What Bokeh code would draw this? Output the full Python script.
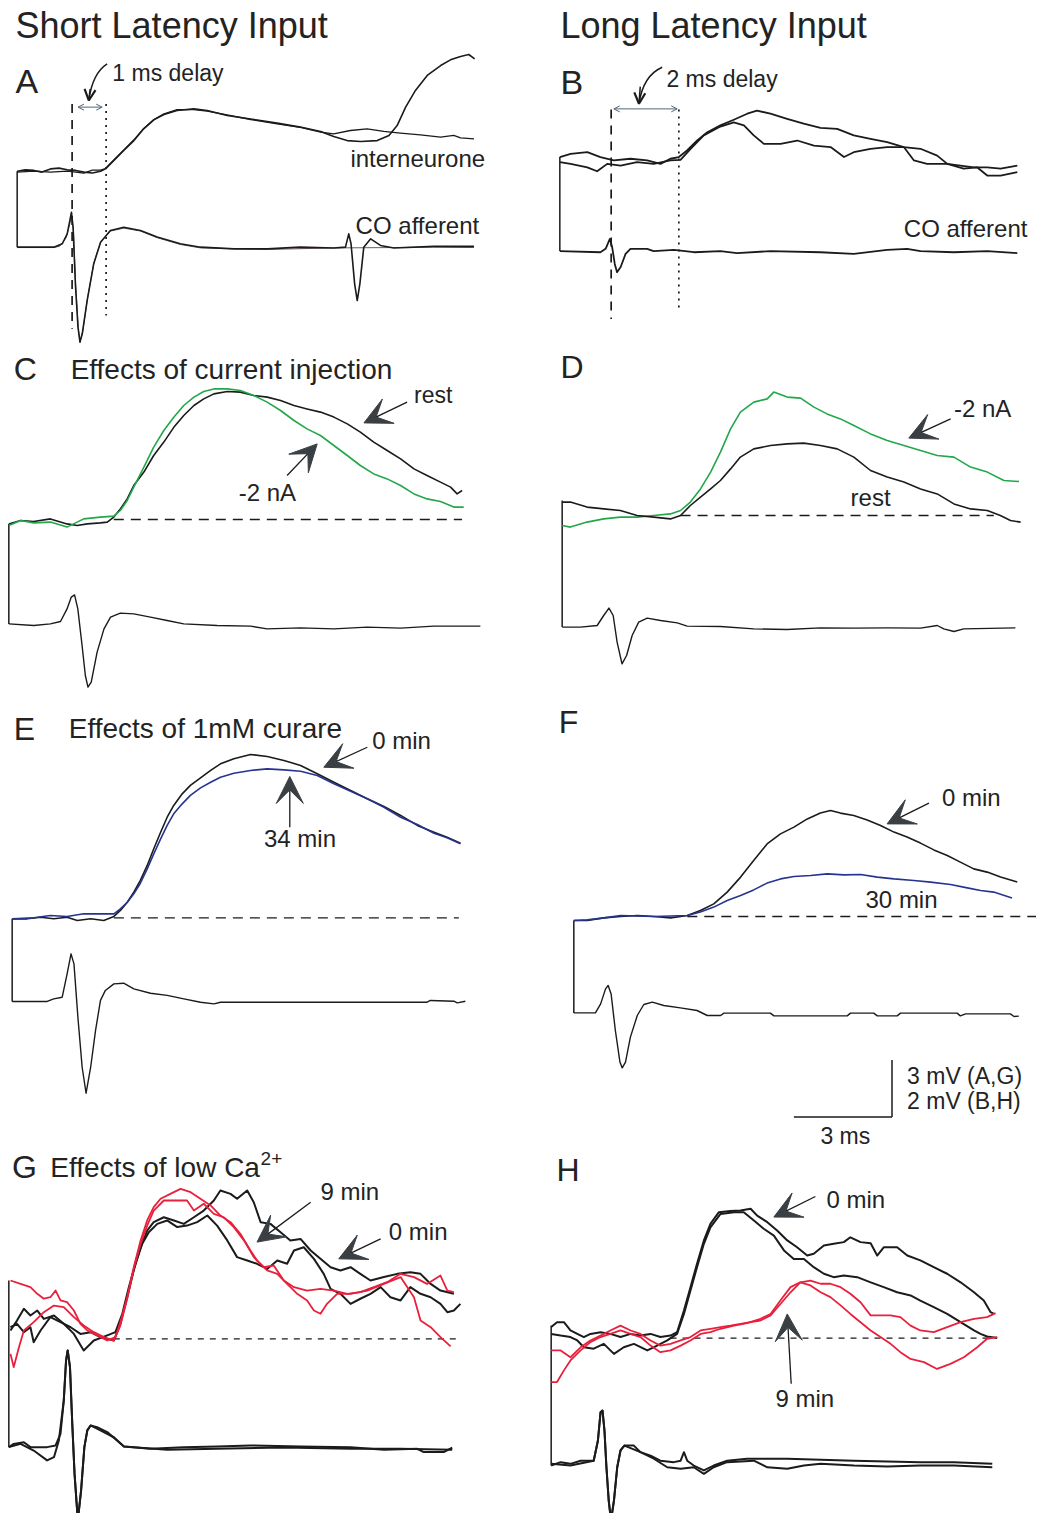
from bokeh.plotting import figure
from bokeh.models import Range1d, Arrow, VeeHead, OpenHead
from bokeh.layouts import column, row
from bokeh.embed import file_html
from bokeh.resources import INLINE
from bokeh.core.properties import value

# ---------------------------------------------------------------- data
# every trace: list of (time in ms from sweep start, potential in mV)
# afferent (extracellular) traces are drawn below the intracellular ones,
# in the same panel units with their own offset baseline.

# ---- A : short latency, interneurone (3 mV scale)
A_INT1 = [(0, 0), (0.25, 0.07), (0.51, 0.04), (0.76, -0.05), (1.02, 0.12), (1.28, 0.16),
          (1.53, 0.07), (1.79, 0.04), (2.04, -0.05), (2.30, -0.1), (2.55, 0.0), (2.70, 0.12),
          (2.96, 0.56), (3.26, 1.09), (3.57, 1.61), (3.87, 2.23), (4.18, 2.70), (4.49, 2.98),
          (4.89, 3.19), (5.40, 3.28), (5.81, 3.19), (6.42, 2.93), (7.14, 2.75), (7.95, 2.53),
          (8.66, 2.32), (9.28, 2.09), (9.68, 1.82), (10.09, 1.61), (10.50, 1.56), (11.01, 1.61),
          (11.37, 1.88), (11.62, 2.40), (11.88, 3.37), (12.18, 4.25), (12.54, 5.04), (12.95, 5.56),
          (13.25, 5.86), (13.56, 6.04), (13.81, 6.14), (13.99, 5.91)]
A_INT2 = [(0, -0.05), (0.51, 0.0), (1.02, -0.05), (1.53, 0.0), (2.04, -0.1), (2.30, 0.05),
          (2.55, 0.05), (2.70, 0.14), (2.96, 0.6), (3.26, 1.12), (3.57, 1.65), (3.87, 2.25),
          (4.18, 2.72), (4.49, 3.02), (4.89, 3.24), (5.40, 3.24), (5.81, 3.16), (6.42, 2.96),
          (7.14, 2.72), (7.95, 2.49), (8.66, 2.30), (9.28, 2.05), (9.68, 1.96), (10.19, 2.14),
          (10.70, 2.23), (11.21, 2.09), (11.72, 2.00), (12.33, 1.91), (12.95, 1.79), (13.35, 1.88),
          (13.56, 1.75), (13.97, 1.70)]
A_AFF1 = [(0, -4.0), (1.12, -4.0), (1.38, -3.82), (1.53, -3.30), (1.61, -2.60), (1.66, -2.16),
          (1.71, -2.95), (1.78, -5.93), (1.86, -8.21), (1.92, -9.0), (1.99, -8.56), (2.14, -6.81),
          (2.34, -4.88), (2.55, -3.74), (2.85, -3.12), (3.26, -2.95), (3.77, -3.12), (4.28, -3.47),
          (4.99, -3.82), (5.61, -4.0), (6.63, -4.09), (7.65, -4.09), (8.66, -4.0), (9.68, -4.04),
          (10.04, -4.0), (10.14, -3.30), (10.21, -3.82), (10.32, -5.93), (10.40, -6.81),
          (10.48, -5.93), (10.60, -4.0), (10.81, -3.56), (11.11, -3.91), (11.52, -4.04),
          (12.74, -3.96), (13.97, -3.96)]
A_AFF2 = [(0, -4.02), (1.12, -4.02), (1.30, -3.95), (1.50, -3.5), (1.61, -2.75), (1.66, -2.3),
          (1.72, -3.1), (1.79, -6.0), (1.87, -8.3), (1.92, -8.95), (2.00, -8.5), (2.15, -6.7),
          (2.35, -4.8), (2.56, -3.7), (2.86, -3.15), (3.26, -3.0), (3.77, -3.15), (4.28, -3.5),
          (4.99, -3.86), (5.61, -4.04), (7.65, -4.12), (9.68, -4.04), (11.5, -4.02), (12.7, -4.0),
          (13.97, -4.02)]
A_EDGE = [-4.0, 0.0]

# ---- B : long latency (2 mV scale)
B_INT1 = [(0, 0.18), (0.33, 0.29), (0.84, 0.35), (1.24, 0.18), (1.65, 0.06), (2.16, 0.12),
          (2.67, 0.06), (3.08, -0.06), (3.38, 0.12), (3.64, 0.18), (3.89, 0.41), (4.20, 0.76),
          (4.51, 1.05), (4.91, 1.29), (5.32, 1.49), (5.73, 1.70), (6.03, 1.81), (6.44, 1.70),
          (6.95, 1.52), (7.46, 1.35), (7.97, 1.20), (8.48, 1.17), (8.99, 0.94), (9.50, 0.82),
          (10.01, 0.70), (10.52, 0.53), (11.03, 0.47), (11.54, 0.23), (11.85, -0.06),
          (12.25, -0.12), (12.66, -0.18), (13.07, -0.18), (13.48, -0.23), (13.99, -0.12)]
B_INT2 = [(0, 0.0), (0.33, -0.06), (0.84, -0.18), (1.14, -0.32), (1.45, -0.06), (1.86, -0.12),
          (2.36, 0.0), (2.87, -0.06), (3.38, 0.06), (3.69, 0.08), (4.00, 0.47), (4.40, 0.94),
          (4.91, 1.25), (5.32, 1.40), (5.63, 1.29), (5.93, 0.94), (6.24, 0.64), (6.75, 0.64),
          (7.26, 0.76), (7.77, 0.58), (8.28, 0.53), (8.69, 0.18), (8.99, 0.35), (9.50, 0.47),
          (10.01, 0.53), (10.52, 0.53), (10.83, 0.06), (11.23, -0.06), (11.85, -0.06),
          (12.35, -0.23), (12.76, -0.18), (13.07, -0.47), (13.48, -0.47), (13.99, -0.35)]
B_AFF = [(0, -3.12), (1.24, -3.16), (1.40, -3.04), (1.53, -2.69), (1.60, -2.98), (1.68, -3.57),
         (1.75, -3.86), (1.86, -3.68), (2.01, -3.22), (2.16, -3.04), (2.67, -3.04), (2.87, -3.12),
         (3.49, -3.08), (4.10, -3.16), (4.91, -3.12), (5.42, -3.19), (6.44, -3.12), (7.97, -3.16),
         (8.99, -3.22), (10.01, -3.08), (10.62, -3.04), (11.03, -3.12), (12.05, -3.16),
         (13.07, -3.12), (13.99, -3.19)]
B_EDGE = [-3.12, 0.18]

# ---- C : current injection, short latency
C_REST = [(0, -0.22), (0.36, -0.05), (0.76, -0.10), (1.27, 0.03), (1.78, -0.22), (2.09, -0.30),
          (2.40, -0.22), (2.80, -0.17), (3.01, -0.13), (3.21, 0.12), (3.41, 0.53), (3.62, 1.03),
          (3.82, 1.70), (4.13, 2.37), (4.43, 3.20), (4.74, 3.87), (5.05, 4.62), (5.35, 5.20),
          (5.66, 5.70), (5.96, 6.03), (6.27, 6.28), (6.68, 6.40), (7.08, 6.37), (7.49, 6.20),
          (7.90, 6.12), (8.31, 5.95), (8.72, 5.70), (9.12, 5.53), (9.53, 5.37), (9.94, 5.12),
          (10.35, 4.78), (10.75, 4.37), (11.16, 3.87), (11.57, 3.45), (11.98, 3.03), (12.39, 2.53),
          (12.79, 2.20), (13.20, 1.87), (13.51, 1.62), (13.71, 1.28), (13.86, 1.45)]
C_NEG = [(0, -0.30), (0.36, -0.05), (0.76, -0.17), (1.27, -0.13), (1.78, -0.38), (2.29, 0.03),
         (2.80, 0.12), (3.21, 0.17), (3.41, 0.45), (3.62, 0.95), (3.82, 1.62), (4.13, 2.62),
         (4.43, 3.62), (4.74, 4.45), (5.05, 5.12), (5.35, 5.70), (5.66, 6.12), (5.96, 6.40),
         (6.27, 6.53), (6.68, 6.53), (7.08, 6.45), (7.49, 6.20), (7.90, 5.87), (8.31, 5.45),
         (8.72, 4.95), (9.12, 4.53), (9.53, 4.20), (9.94, 3.70), (10.35, 3.20), (10.75, 2.70),
         (11.16, 2.28), (11.57, 2.03), (11.98, 1.70), (12.39, 1.28), (12.79, 1.03), (13.20, 0.90),
         (13.61, 0.62), (13.91, 0.62)]
C_AFF = [(0, -5.22), (0.76, -5.30), (1.27, -5.22), (1.58, -5.10), (1.78, -4.47), (1.91, -3.88),
         (2.01, -3.77), (2.11, -4.47), (2.24, -6.30), (2.34, -7.80), (2.42, -8.38), (2.52, -8.13),
         (2.70, -6.63), (2.91, -5.47), (3.11, -4.88), (3.41, -4.68), (3.82, -4.72), (4.33, -4.88),
         (4.84, -5.05), (5.35, -5.22), (6.37, -5.30), (7.39, -5.33), (7.90, -5.47), (8.92, -5.42),
         (9.94, -5.47), (10.96, -5.38), (11.98, -5.43), (13.00, -5.33), (14.42, -5.33)]
C_EDGE = [-5.22, -0.22]

# ---- D : current injection, long latency
D_REST = [(0, 0.67), (0.25, 0.67), (0.76, 0.42), (1.27, 0.33), (1.78, 0.25), (2.29, 0.0),
          (2.80, -0.08), (3.31, -0.17), (3.62, 0.0), (3.92, 0.50), (4.23, 0.92), (4.54, 1.33),
          (4.84, 1.75), (5.15, 2.33), (5.45, 2.92), (5.86, 3.33), (6.37, 3.50), (6.88, 3.58),
          (7.39, 3.62), (7.90, 3.50), (8.41, 3.33), (8.92, 2.92), (9.43, 2.25), (9.94, 1.92),
          (10.45, 1.67), (10.96, 1.33), (11.47, 1.08), (11.98, 0.58), (12.49, 0.33), (13.00, 0.25),
          (13.40, 0.0), (13.71, -0.25), (14.02, -0.33)]
D_NEG = [(0, -0.50), (0.25, -0.58), (0.76, -0.33), (1.27, -0.17), (1.78, -0.08), (2.29, -0.08),
         (2.80, 0.0), (3.31, 0.08), (3.62, 0.25), (3.92, 0.67), (4.23, 1.33), (4.54, 2.17),
         (4.84, 3.17), (5.15, 4.33), (5.45, 5.17), (5.86, 5.67), (6.27, 5.83), (6.47, 6.17),
         (6.88, 5.92), (7.29, 5.87), (7.70, 5.42), (8.10, 5.08), (8.51, 4.83), (8.92, 4.50),
         (9.43, 4.08), (9.94, 3.75), (10.45, 3.50), (10.96, 3.25), (11.47, 3.00), (11.98, 2.92),
         (12.49, 2.42), (13.00, 2.17), (13.51, 1.75), (13.97, 1.70)]
D_AFF = [(0, -5.58), (0.56, -5.58), (1.07, -5.50), (1.27, -5.00), (1.43, -4.63), (1.56, -5.00),
         (1.68, -6.33), (1.83, -7.42), (1.97, -7.00), (2.14, -6.00), (2.34, -5.33), (2.60, -5.13),
         (3.01, -5.25), (3.52, -5.37), (3.82, -5.53), (4.84, -5.55), (5.86, -5.67), (6.88, -5.70),
         (7.90, -5.62), (8.92, -5.63), (9.94, -5.62), (10.96, -5.63), (11.47, -5.50),
         (11.67, -5.67), (11.98, -5.80), (12.28, -5.67), (13.86, -5.62)]
D_EDGE = [-5.58, 0.75]

# ---- E : curare, short latency
E_0MIN = [(0, -0.05), (0.46, -0.05), (0.87, 0.03), (1.27, -0.05), (1.68, 0.03), (1.99, -0.13),
          (2.40, -0.05), (2.80, -0.13), (3.11, 0.07), (3.31, 0.37), (3.52, 0.78), (3.72, 1.28),
          (3.92, 1.87), (4.13, 2.62), (4.33, 3.45), (4.54, 4.28), (4.74, 5.03), (4.94, 5.62),
          (5.20, 6.20), (5.45, 6.62), (5.76, 7.00), (6.07, 7.37), (6.37, 7.70), (6.78, 7.95),
          (7.29, 8.17), (7.80, 8.07), (8.31, 7.87), (8.82, 7.62), (9.33, 7.20), (9.84, 6.78),
          (10.35, 6.37), (10.86, 5.95), (11.37, 5.57), (11.88, 5.12), (12.39, 4.62), (12.90, 4.28),
          (13.30, 4.03), (13.71, 3.73)]
E_34MIN = [(0, -0.05), (0.66, 0.0), (1.17, 0.12), (1.68, 0.07), (2.19, 0.20), (2.70, 0.20),
           (3.11, 0.20), (3.31, 0.45), (3.52, 0.78), (3.72, 1.20), (3.92, 1.73), (4.13, 2.45),
           (4.33, 3.20), (4.54, 3.95), (4.74, 4.62), (4.94, 5.20), (5.20, 5.70), (5.45, 6.12),
           (5.76, 6.50), (6.07, 6.78), (6.37, 7.03), (6.78, 7.23), (7.29, 7.37), (7.80, 7.45),
           (8.31, 7.40), (8.82, 7.33), (9.33, 7.12), (9.84, 6.70), (10.35, 6.33), (10.86, 5.95),
           (11.37, 5.53), (11.88, 5.03), (12.39, 4.67), (12.90, 4.23), (13.30, 4.00), (13.71, 3.70)]
E_AFF = [(0, -4.18), (1.07, -4.18), (1.27, -4.05), (1.53, -3.97), (1.68, -2.80), (1.80, -1.80),
         (1.89, -2.30), (2.01, -4.97), (2.14, -7.47), (2.26, -8.77), (2.40, -7.47), (2.55, -5.63),
         (2.70, -4.13), (2.85, -3.63), (3.11, -3.30), (3.41, -3.27), (3.72, -3.55), (4.23, -3.77),
         (4.74, -3.88), (5.25, -4.05), (5.76, -4.22), (6.17, -4.30), (6.37, -4.22), (7.80, -4.22),
         (9.84, -4.22), (12.69, -4.22), (12.79, -4.13), (13.51, -4.17), (13.61, -4.25),
         (13.86, -4.17)]
E_EDGE = [-4.18, -0.05]

# ---- F : curare, long latency
F_0MIN = [(0, -0.20), (0.41, -0.20), (0.92, -0.07), (1.43, 0.0), (1.94, 0.05), (2.45, 0.0),
          (2.96, -0.07), (3.47, 0.05), (3.87, 0.30), (4.28, 0.63), (4.69, 1.22), (5.10, 1.97),
          (5.50, 2.80), (5.91, 3.63), (6.32, 4.13), (6.73, 4.47), (7.14, 4.88), (7.54, 5.17),
          (7.85, 5.30), (8.15, 5.17), (8.56, 5.05), (8.97, 4.83), (9.38, 4.55), (9.79, 4.22),
          (10.19, 3.97), (10.60, 3.67), (11.01, 3.33), (11.42, 3.05), (11.82, 2.72), (12.23, 2.38),
          (12.64, 2.22), (13.05, 1.97), (13.56, 1.72)]
F_30MIN = [(0, -0.20), (0.41, -0.17), (0.92, -0.07), (1.43, 0.05), (2.45, 0.0), (3.47, 0.05),
           (3.87, 0.22), (4.28, 0.47), (4.69, 0.80), (5.10, 1.05), (5.50, 1.33), (5.91, 1.67),
           (6.32, 1.88), (6.73, 2.00), (7.24, 2.05), (7.75, 2.13), (8.26, 2.08), (8.77, 2.10),
           (9.28, 1.97), (9.79, 1.88), (10.40, 1.80), (10.91, 1.72), (11.52, 1.60), (12.03, 1.43),
           (12.44, 1.30), (12.84, 1.22), (13.40, 0.93)]
F_AFF = [(0, -4.82), (0.66, -4.82), (0.82, -4.37), (0.97, -3.62), (1.05, -3.45), (1.14, -3.87),
         (1.27, -5.70), (1.41, -7.28), (1.48, -7.57), (1.58, -7.28), (1.73, -6.03), (1.94, -4.95),
         (2.14, -4.40), (2.40, -4.28), (2.75, -4.45), (3.26, -4.57), (3.77, -4.70), (4.08, -4.95),
         (4.49, -4.95), (4.59, -4.83), (6.01, -4.83), (6.12, -4.97), (8.36, -4.97), (8.46, -4.83),
         (9.17, -4.83), (9.28, -4.97), (9.89, -4.97), (9.99, -4.83), (11.72, -4.83),
         (11.82, -4.97), (11.98, -4.87), (13.35, -4.87), (13.46, -5.0), (13.61, -4.98)]
F_EDGE = [-4.82, -0.20]

# ---- G : low Ca2+, short latency (3 mV scale)
G_RED1 = [(0.05, 3.07), (0.36, 2.89), (0.66, 2.72), (0.87, 2.37), (1.07, 2.11), (1.27, 2.19),
          (1.43, 2.54), (1.58, 2.02), (1.78, 1.93), (1.99, 1.49), (2.19, 0.79), (2.40, 0.44),
          (2.70, 0.18), (3.01, -0.09), (3.26, 0.09), (3.41, 0.88), (3.62, 2.19), (3.82, 3.77),
          (4.03, 5.18), (4.23, 6.23), (4.43, 6.93), (4.64, 7.37), (4.94, 7.63), (5.25, 7.89),
          (5.56, 7.72), (5.86, 7.37), (6.17, 7.02), (6.47, 6.49), (6.78, 6.14), (7.08, 5.53),
          (7.39, 4.65), (7.59, 4.12), (7.90, 3.60), (8.21, 3.42), (8.51, 2.89), (8.82, 2.37),
          (9.12, 2.02), (9.33, 1.49), (9.53, 1.32), (9.73, 1.84), (10.04, 2.37), (10.45, 2.37),
          (10.96, 2.54), (11.47, 2.89), (11.98, 3.25), (12.39, 2.19), (12.59, 0.96), (12.90, 0.61),
          (13.20, 0.09), (13.51, -0.40)]
G_RED2 = [(0.05, -0.79), (0.15, -1.49), (0.31, -0.44), (0.46, 0.44), (0.76, 0.88), (1.07, 1.40),
          (1.38, 1.75), (1.68, 1.67), (1.99, 1.14), (2.29, 0.70), (2.60, 0.35), (2.91, 0.09),
          (3.21, -0.09), (3.41, 0.70), (3.62, 2.11), (3.82, 3.68), (4.03, 5.00), (4.23, 5.96),
          (4.43, 6.75), (4.74, 7.28), (5.05, 7.28), (5.45, 7.28), (5.66, 6.75), (5.96, 7.11),
          (6.27, 6.58), (6.57, 6.40), (6.88, 5.88), (7.19, 5.18), (7.49, 4.30), (7.80, 3.77),
          (8.10, 3.86), (8.41, 3.07), (8.72, 2.72), (9.12, 2.54), (9.53, 2.63), (9.94, 2.54),
          (10.35, 2.37), (10.75, 2.46), (11.16, 2.72), (11.57, 2.98), (11.98, 3.42), (12.39, 3.25),
          (12.79, 2.89), (13.20, 3.33), (13.41, 2.54), (13.61, 2.46)]
G_BLK1 = [(0.05, 0.44), (0.25, 0.96), (0.46, 1.58), (0.66, 1.23), (0.87, 1.49), (1.07, 1.05),
          (1.38, 1.23), (1.68, 0.79), (1.99, 0.26), (2.29, -0.61), (2.60, -0.09), (3.01, 0.18),
          (3.26, 0.35), (3.47, 1.32), (3.67, 2.72), (3.87, 3.95), (4.08, 5.00), (4.28, 5.61),
          (4.54, 6.05), (4.84, 6.23), (5.15, 5.88), (5.45, 5.96), (5.76, 6.14), (6.07, 6.49),
          (6.37, 5.96), (6.68, 5.18), (6.98, 4.30), (7.29, 4.12), (7.59, 3.95), (7.90, 3.68),
          (8.21, 4.12), (8.51, 3.95), (8.72, 4.65), (9.02, 4.82), (9.33, 4.21), (9.63, 3.42),
          (9.84, 2.63), (10.14, 2.37), (10.45, 1.84), (10.75, 2.11), (11.06, 2.37), (11.37, 2.72),
          (11.67, 2.19), (11.98, 2.02), (12.28, 2.72), (12.59, 2.37), (12.90, 2.19), (13.20, 1.84),
          (13.41, 1.40), (13.61, 1.49), (13.81, 1.84)]
G_BLK2 = [(0.05, 0.61), (0.25, 0.79), (0.46, 0.35), (0.66, 0.61), (0.76, -0.18), (0.97, 0.44),
          (1.27, 1.14), (1.58, 0.88), (1.89, 0.61), (2.19, 0.26), (2.50, 0.35), (2.80, 0.09),
          (3.21, -0.09), (3.41, 0.79), (3.62, 2.19), (3.82, 3.60), (4.03, 4.82), (4.23, 5.70),
          (4.43, 6.14), (4.74, 6.40), (5.05, 6.23), (5.35, 6.05), (5.66, 6.40), (5.96, 6.75),
          (6.27, 7.28), (6.47, 7.81), (6.78, 7.63), (6.98, 7.37), (7.29, 7.81), (7.49, 7.19),
          (7.70, 6.14), (8.00, 6.05), (8.31, 5.61), (8.61, 5.18), (8.92, 5.26), (9.23, 4.65),
          (9.53, 4.21), (9.84, 3.77), (10.14, 3.60), (10.45, 3.77), (10.75, 3.42), (11.06, 3.07),
          (11.47, 3.25), (11.88, 3.42), (12.28, 3.51), (12.59, 3.42), (12.90, 2.89), (13.20, 2.54),
          (13.61, 2.37)]
G_AFF1 = [(0, -5.70), (0.15, -5.53), (0.46, -5.44), (0.66, -5.70), (1.17, -5.70), (1.43, -5.61),
          (1.58, -5.00), (1.68, -3.25), (1.75, -1.14), (1.80, -0.61), (1.87, -1.49), (1.94, -4.47),
          (2.01, -7.11), (2.11, -9.56), (2.21, -7.98), (2.31, -5.70), (2.40, -4.82), (2.50, -4.56),
          (2.70, -4.65), (3.01, -4.91), (3.31, -5.35), (3.52, -5.67), (4.33, -5.79), (5.35, -5.70),
          (6.37, -5.67), (7.39, -5.61), (8.92, -5.67), (10.45, -5.70), (11.47, -5.84),
          (12.49, -5.79), (12.69, -5.96), (13.30, -5.96), (13.56, -5.72)]
G_AFF2 = [(0, -5.70), (0.36, -5.53), (0.76, -5.88), (1.17, -6.40), (1.38, -6.23), (1.53, -5.35),
          (1.68, -3.25), (1.75, -1.14), (1.80, -0.61), (1.87, -1.49), (1.94, -4.47), (2.01, -7.11),
          (2.11, -9.56), (2.21, -7.98), (2.31, -5.70), (2.40, -4.82), (2.50, -4.56), (2.80, -4.82),
          (3.21, -5.18), (3.52, -5.67), (4.84, -5.84), (6.37, -5.79), (8.41, -5.72),
          (10.45, -5.79), (11.98, -5.79), (13.56, -5.84)]
G_EDGE = [-5.70, 3.07]

# ---- H : low Ca2+, long latency (2 mV scale)
H_BLK1 = [(0, 0.39), (0.18, 0.56), (0.39, 0.56), (0.59, 0.27), (0.80, 0.15), (1.00, 0.04),
          (1.20, 0.15), (1.51, 0.21), (1.81, 0.15), (2.12, 0.04), (2.43, 0.15), (2.73, 0.09),
          (3.04, 0.15), (3.34, 0.04), (3.65, 0.09), (3.85, 0.21), (4.06, 0.97), (4.26, 1.79),
          (4.46, 2.61), (4.67, 3.43), (4.87, 4.01), (5.13, 4.42), (5.48, 4.46), (5.79, 4.48),
          (6.10, 4.54), (6.30, 4.30), (6.61, 4.07), (6.91, 3.78), (7.22, 3.43), (7.52, 3.19),
          (7.83, 2.90), (8.03, 2.96), (8.34, 3.25), (8.64, 3.31), (8.95, 3.37), (9.15, 3.54),
          (9.46, 3.37), (9.77, 3.33), (9.97, 2.90), (10.17, 3.19), (10.58, 3.19), (10.89, 2.90),
          (11.29, 2.73), (11.70, 2.49), (12.11, 2.26), (12.52, 1.96), (12.93, 1.61), (13.23, 1.32),
          (13.44, 0.91), (13.54, 0.85)]
H_BLK2 = [(0, 0.15), (0.29, 0.09), (0.59, 0.04), (0.80, -0.08), (1.00, -0.32), (1.30, -0.37),
          (1.61, -0.20), (1.92, -0.55), (2.22, -0.32), (2.53, -0.20), (2.94, -0.43), (3.24, -0.26),
          (3.55, -0.08), (3.85, 0.15), (4.06, 0.85), (4.26, 1.67), (4.46, 2.49), (4.67, 3.31),
          (4.87, 3.89), (5.18, 4.36), (5.59, 4.42), (5.89, 4.42), (6.20, 4.13), (6.50, 3.84),
          (6.81, 3.60), (7.12, 3.08), (7.42, 2.78), (7.73, 2.78), (8.03, 2.49), (8.34, 2.26),
          (8.64, 2.14), (8.95, 2.20), (9.36, 2.14), (9.77, 1.96), (10.17, 1.79), (10.58, 1.61),
          (10.99, 1.50), (11.29, 1.32), (11.70, 1.09), (12.11, 0.85), (12.52, 0.56), (12.93, 0.27),
          (13.13, 0.15), (13.33, 0.06), (13.64, 0.01)]
H_RED1 = [(0, -0.43), (0.29, -0.43), (0.59, -0.67), (0.90, -0.32), (1.20, -0.08), (1.51, 0.09),
          (1.81, 0.27), (2.12, 0.44), (2.43, 0.27), (2.73, 0.15), (3.04, -0.08), (3.34, -0.26),
          (3.65, -0.20), (3.96, -0.08), (4.26, 0.04), (4.57, 0.27), (4.87, 0.33), (5.18, 0.39),
          (5.48, 0.44), (5.79, 0.50), (6.10, 0.56), (6.40, 0.62), (6.71, 0.80), (7.01, 1.20),
          (7.32, 1.61), (7.62, 1.96), (7.93, 2.02), (8.24, 1.91), (8.54, 1.91), (8.85, 1.79),
          (9.15, 1.56), (9.46, 1.26), (9.77, 0.80), (10.07, 0.80), (10.38, 0.80), (10.68, 0.74),
          (10.99, 0.44), (11.29, 0.27), (11.70, 0.21), (12.11, 0.39), (12.52, 0.56), (12.93, 0.68),
          (13.33, 0.74), (13.59, 0.88)]
H_RED2 = [(0, -1.54), (0.18, -1.54), (0.39, -1.13), (0.59, -0.78), (0.90, -0.43), (1.20, -0.14),
          (1.51, 0.04), (1.81, 0.15), (2.12, 0.27), (2.43, 0.15), (2.73, 0.04), (3.04, -0.26),
          (3.34, -0.49), (3.65, -0.43), (3.96, -0.26), (4.26, -0.08), (4.57, 0.15), (4.87, 0.21),
          (5.18, 0.33), (5.59, 0.44), (5.99, 0.53), (6.40, 0.68), (6.71, 0.85), (7.01, 1.32),
          (7.32, 1.79), (7.62, 1.96), (7.93, 1.85), (8.24, 1.61), (8.54, 1.44), (8.85, 1.15),
          (9.15, 0.85), (9.46, 0.56), (9.77, 0.27), (10.07, 0.04), (10.38, -0.20), (10.68, -0.49),
          (10.99, -0.73), (11.40, -0.84), (11.80, -1.08), (12.21, -0.90), (12.62, -0.67),
          (13.03, -0.32), (13.33, -0.02), (13.64, 0.04)]
H_AFF1 = [(0, -4.47), (0.29, -4.35), (0.59, -4.41), (0.90, -4.30), (1.30, -4.30), (1.43, -3.59),
          (1.51, -2.60), (1.57, -2.54), (1.63, -3.24), (1.69, -4.53), (1.76, -5.70), (1.83, -6.40),
          (1.92, -5.70), (2.02, -4.53), (2.12, -3.94), (2.24, -3.77), (2.53, -3.77), (2.73, -4.00),
          (3.04, -4.12), (3.34, -4.30), (3.75, -4.35), (3.96, -4.30), (4.06, -4.00), (4.16, -4.30),
          (4.36, -4.47), (4.67, -4.64), (4.97, -4.47), (5.38, -4.30), (5.99, -4.23), (6.61, -4.23),
          (7.22, -4.23), (8.24, -4.27), (9.26, -4.30), (10.28, -4.33), (11.29, -4.35),
          (12.31, -4.35), (13.49, -4.41)]
H_AFF2 = [(0, -4.41), (0.59, -4.47), (1.30, -4.30), (1.43, -3.59), (1.51, -2.60), (1.57, -2.54),
          (1.63, -3.24), (1.69, -4.53), (1.76, -5.70), (1.83, -6.40), (1.92, -5.70), (2.02, -4.53),
          (2.12, -3.94), (2.24, -3.77), (2.73, -4.00), (3.14, -4.23), (3.55, -4.53), (3.96, -4.58),
          (4.36, -4.53), (4.67, -4.76), (4.97, -4.53), (5.38, -4.35), (6.20, -4.30), (6.61, -4.53),
          (7.22, -4.58), (7.73, -4.47), (8.24, -4.41), (9.26, -4.47), (10.28, -4.50),
          (11.29, -4.47), (12.31, -4.47), (13.49, -4.53)]
H_EDGE = [-4.47, 0.44]

# scale bar values
SCALE_MS = 3
SCALE_MV_AG = 3
SCALE_MV_BH = 2

# ---------------------------------------------------------------- layout / style
PX_PER_MS = 32.7
FONT = "Liberation Sans"
INK = "#1b1b1b"
TXT = "#232323"
GREEN = "#22a84a"
BLUE = "#26348f"
RED = "#e8203c"
DART = "#3a3f44"

# panel frame in page px, sweep origin in page px, px per mV
GEOM = {
    "A": dict(L=0, T=0, W=522, H=345, x0=16.67, y0=170.67, k=19.0),
    "B": dict(L=522, T=0, W=514, H=345, x0=559.33, y0=161.67, k=28.5),
    "C": dict(L=0, T=345, W=522, H=355, x0=8.33, y0=519.0, k=20.0),
    "D": dict(L=522, T=345, W=514, H=355, x0=561.67, y0=515.0, k=20.0),
    "E": dict(L=0, T=700, W=522, H=447, x0=11.67, y0=917.33, k=20.0),
    "F": dict(L=522, T=700, W=514, H=447, x0=573.33, y0=916.0, k=20.0),
    "G": dict(L=0, T=1147, W=522, H=366, x0=8.33, y0=1338.33, k=19.0),
    "H": dict(L=522, T=1147, W=514, H=366, x0=550.67, y0=1337.67, k=28.5),
}


def make_panel(name):
    g = GEOM[name]
    xs = (g["L"] - g["x0"]) / PX_PER_MS
    xe = (g["L"] + g["W"] - g["x0"]) / PX_PER_MS
    yt = (g["y0"] - g["T"]) / g["k"]
    yb = (g["y0"] - g["T"] - g["H"]) / g["k"]
    p = figure(width=g["W"], height=g["H"], x_range=Range1d(xs, xe), y_range=Range1d(yb, yt),
               output_backend="svg", toolbar_location=None, tools="", min_border=0,
               x_axis_location=None, y_axis_location=None, title=None)
    p.grid.visible = False
    p.outline_line_color = None
    p.background_fill_color = "white"
    p.border_fill_color = "white"
    return p


def trace(p, pts, color=INK, width=1.6):
    p.line([a for a, b in pts], [b for a, b in pts], line_color=color, line_width=width,
           line_join="round")


def edge(p, lims):
    p.line([0, 0], lims, line_color=INK, line_width=1.5)


def txt(p, x, y, s, size, align="left"):
    p.text(x=[x], y=[y], text=[s], text_font=value(FONT), text_font_size=f"{size}px",
           text_color=TXT, text_baseline="middle", text_align=align)


def dart(p, xs, ys, xe, ye):
    p.add_layout(Arrow(end=VeeHead(size=27, fill_color=DART, line_color=DART, line_width=1),
                       x_start=xs, y_start=ys, x_end=xe, y_end=ye,
                       line_color=INK, line_width=1.3))


def hdash(p, x1, x2, dash="10 7"):
    p.line([x1, x2], [0, 0], line_color=INK, line_width=1.4, line_dash=dash)


def delay_marks(p, td, tp, top, bot_d, bot_p, a1, a2, ay, c0, c1, cc):
    p.line([td, td], [top, bot_d], line_color=INK, line_width=1.7, line_dash="9 7")
    p.line([tp, tp], [top, bot_p], line_color=INK, line_width=1.7, line_dash="2 5")
    p.add_layout(Arrow(start=OpenHead(size=6, line_color="#56657a", line_width=1),
                       end=OpenHead(size=6, line_color="#56657a", line_width=1),
                       x_start=a1, y_start=ay, x_end=a2, y_end=ay,
                       line_color="#56657a", line_width=1))
    p.quadratic(x0=[c0[0]], y0=[c0[1]], x1=[c1[0]], y1=[c1[1]], cx=[cc[0]], cy=[cc[1]],
                line_color=INK, line_width=1.5)
    p.add_layout(Arrow(end=OpenHead(size=11, line_color=INK, line_width=2.2),
                       x_start=c1[0] + 0.04, y_start=c1[1] + 0.6, x_end=c1[0], y_end=c1[1],
                       line_color=INK, line_width=1.5))


# ---- A
pA = make_panel("A")
edge(pA, A_EDGE)
trace(pA, A_INT2, width=1.3)
trace(pA, A_INT1)
trace(pA, A_AFF2, color="#6d5a5a", width=1.0)
trace(pA, A_AFF1)
delay_marks(pA, 1.68, 2.72, 3.54, -8.30, -7.6, 1.86, 2.60, 3.37,
            (2.75, 5.65), (2.19, 3.72), (2.30, 5.15))
txt(pA, -0.05, 7.67, "Short Latency Input", 36)
txt(pA, -0.05, 4.77, "A", 34)
txt(pA, 2.91, 5.19, "1 ms delay", 23)
txt(pA, 10.19, 0.65, "interneurone", 24)
txt(pA, 10.35, -2.86, "CO afferent", 24)

# ---- B
pB = make_panel("B")
edge(pB, B_EDGE)
trace(pB, B_INT2, width=1.8)
trace(pB, B_INT1, width=1.8)
trace(pB, B_AFF, width=1.8)
delay_marks(pB, 1.57, 3.64, 1.85, -5.50, -5.20, 1.65, 3.59, 1.87,
            (3.13, 3.33), (2.42, 2.05), (2.55, 3.04))
txt(pB, 0.02, 4.80, "Long Latency Input", 36)
txt(pB, 0.02, 2.81, "B", 34)
txt(pB, 3.26, 2.92, "2 ms delay", 23)
txt(pB, 10.52, -2.34, "CO afferent", 24)

# ---- C
pC = make_panel("C")
edge(pC, C_EDGE)
hdash(pC, 3.21, 13.86)
trace(pC, C_REST)
trace(pC, C_NEG, color=GREEN)
trace(pC, C_AFF, width=1.4)
txt(pC, 0.15, 7.53, "C", 32)
txt(pC, 1.89, 7.5, "Effects of current injection", 28)
txt(pC, 12.39, 6.23, "rest", 23)
dart(pC, 12.18, 5.87, 10.86, 4.83)
txt(pC, 7.03, 1.37, "-2 nA", 24)
dart(pC, 8.51, 2.2, 9.43, 3.78)

# ---- D
pD = make_panel("D")
edge(pD, D_EDGE)
hdash(pD, 3.62, 13.2)
trace(pD, D_NEG, color=GREEN)
trace(pD, D_REST)
trace(pD, D_AFF, width=1.4)
txt(pD, -0.05, 7.42, "D", 32)
txt(pD, 11.98, 5.37, "-2 nA", 24)
dart(pD, 11.88, 4.83, 10.60, 3.87)
txt(pD, 8.82, 0.92, "rest", 24)

# ---- E
pE = make_panel("E")
edge(pE, E_EDGE)
hdash(pE, 3.11, 13.66)
trace(pE, E_0MIN)
trace(pE, E_34MIN, color=BLUE)
trace(pE, E_AFF, width=1.4)
txt(pE, 0.05, 9.45, "E", 32)
txt(pE, 1.73, 9.45, "Effects of 1mM curare", 28)
txt(pE, 11.01, 8.87, "0 min", 24)
dart(pE, 10.86, 8.53, 9.53, 7.53)
txt(pE, 7.70, 3.95, "34 min", 24)
dart(pE, 8.49, 4.53, 8.49, 7.07)

# ---- F
pF = make_panel("F")
edge(pF, F_EDGE)
hdash(pF, 3.47, 14.5)
trace(pF, F_0MIN)
trace(pF, F_30MIN, color=BLUE)
trace(pF, F_AFF, width=1.4)
txt(pF, -0.46, 9.72, "F", 32)
txt(pF, 11.26, 5.93, "0 min", 24)
dart(pF, 10.86, 5.67, 9.58, 4.63)
txt(pF, 8.92, 0.83, "30 min", 24)
# scale bar: 3 ms horizontal, vertical = 3 mV at A/G gain (= 2 mV at B/H gain)
bar_x1 = 9.73
bar_y = -10.03
bar_h = SCALE_MV_AG * GEOM["A"]["k"] / GEOM["F"]["k"]
pF.line([bar_x1 - SCALE_MS, bar_x1], [bar_y, bar_y], line_color=INK, line_width=1.5)
pF.line([bar_x1, bar_x1], [bar_y, bar_y + bar_h], line_color=INK, line_width=1.5)
txt(pF, 10.19, -7.95, f"{SCALE_MV_AG} mV (A,G)", 23)
txt(pF, 10.19, -9.2, f"{SCALE_MV_BH} mV (B,H)", 23)
txt(pF, 7.54, -10.95, f"{SCALE_MS} ms", 23)

# ---- G
pG = make_panel("G")
edge(pG, G_EDGE)
hdash(pG, 3.21, 13.81, "6 6")
trace(pG, G_AFF2, width=2.0)
trace(pG, G_AFF1, width=2.0)
trace(pG, G_BLK1, width=2.0)
trace(pG, G_BLK2, width=2.0)
trace(pG, G_RED1, color=RED, width=1.8)
trace(pG, G_RED2, color=RED, width=1.8)
txt(pG, 0.10, 9.04, "G", 32)
txt(pG, 1.27, 9.04, "Effects of low Ca", 28)
txt(pG, 7.70, 9.47, "2+", 19)
txt(pG, 9.53, 7.77, "9 min", 24)
dart(pG, 9.23, 7.19, 7.59, 5.09)
txt(pG, 11.62, 5.67, "0 min", 24)
dart(pG, 11.37, 5.26, 10.09, 4.21)

# ---- H
pH = make_panel("H")
edge(pH, H_EDGE)
hdash(pH, 3.65, 13.44, "6 6")
trace(pH, H_AFF2, width=2.0)
trace(pH, H_AFF1, width=2.0)
trace(pH, H_BLK1, width=2.0)
trace(pH, H_BLK2, width=2.0)
trace(pH, H_RED1, color=RED, width=1.8)
trace(pH, H_RED2, color=RED, width=1.8)
txt(pH, 0.16, 5.90, "H", 32)
txt(pH, 8.42, 4.85, "0 min", 24)
dart(pH, 8.08, 4.97, 6.81, 4.25)
txt(pH, 6.86, -2.13, "9 min", 24)
dart(pH, 7.34, -1.60, 7.22, 0.85)

layout = column(row(pA, pB), row(pC, pD), row(pE, pF), row(pG, pH))
open("out.html", "w").write(file_html(layout, INLINE))
